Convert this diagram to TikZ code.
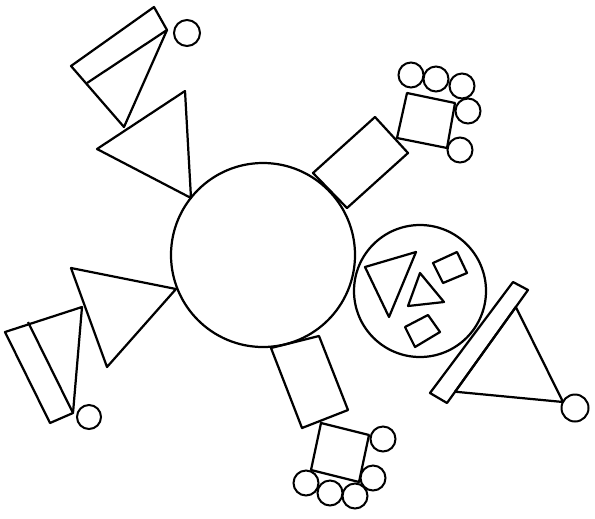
\documentclass[tikz,border=0pt]{standalone}
\usetikzlibrary{calc}
\tikzset{part/.style={draw,line width=1.9pt,line join=round},
  wheel/.style={draw,line width=1.7pt}}
\begin{document}
\begin{tikzpicture}[x=0.03cm,y=-0.03cm]
  \useasboundingbox (0,0) rectangle (595,518);
  % hub and side disc
  \coordinate (hub) at (263,255);
  \coordinate (disc) at (420,291);
  \draw[part] (hub) circle (92);
  \draw[part] (disc) circle (66);
  % shapes inside the disc
  \draw[part] (365,267)--(416,252)--(389,317)--cycle;
  \draw[part] (408,306)--(420,273)--(444,302)--cycle;
  \draw[part] (433,263)--(457,252)--(467,273)--(443,283)--cycle;
  \draw[part] (405,327)--(428,315)--(440,332)--(415,347)--cycle;
  % arm top left
  \draw[part] (97,149)--(185,91)--(191,198)--cycle;
  \draw[part] (124,127)--(71,66)--(154,7)--(167,30)--cycle;
  \draw[part] (87,83)--(167,30);
  \draw[wheel] (187,33) circle (13);
  % arm bottom left
  \draw[part] (71,268)--(176,289)--(107,367)--cycle;
  \draw[part] (82,307)--(5,332)--(50,423)--(73,413)--cycle;
  \draw[part] (28,322)--(73,413);
  \draw[wheel] (89,417) circle (12);
  % arm right: bar and triangle
  \coordinate (barA) at (528,290);
  \coordinate (barB) at (447,403);
  \draw[part] (430,393)--(513,282)--(barA)--(barB)--cycle;
  \draw[part] ($(barA)!0.15!(barB)$)--(563,402)--($(barA)!0.9!(barB)$)--cycle;
  \draw[wheel] (575,408) circle (13.5);
  % arm top right
  \draw[part] (313,173)--(375,117)--(408,153)--(347,208)--cycle;
  \draw[part] (397,138)--(407,93)--(455,103)--(447,148)--cycle;
  \foreach \p in {(411,75),(436,79),(462,86),(468,111),(460,150)}
    \draw[wheel] \p circle (12.5);
  % arm bottom
  \draw[part] (271,348)--(319,336)--(348,410)--(302,428)--cycle;
  \draw[part] (321,423)--(369,435)--(359,482)--(311,470)--cycle;
  \foreach \p in {(383,439),(373,478),(355,496),(330,493),(306,483)}
    \draw[wheel] \p circle (12.5);
\end{tikzpicture}
\end{document}
